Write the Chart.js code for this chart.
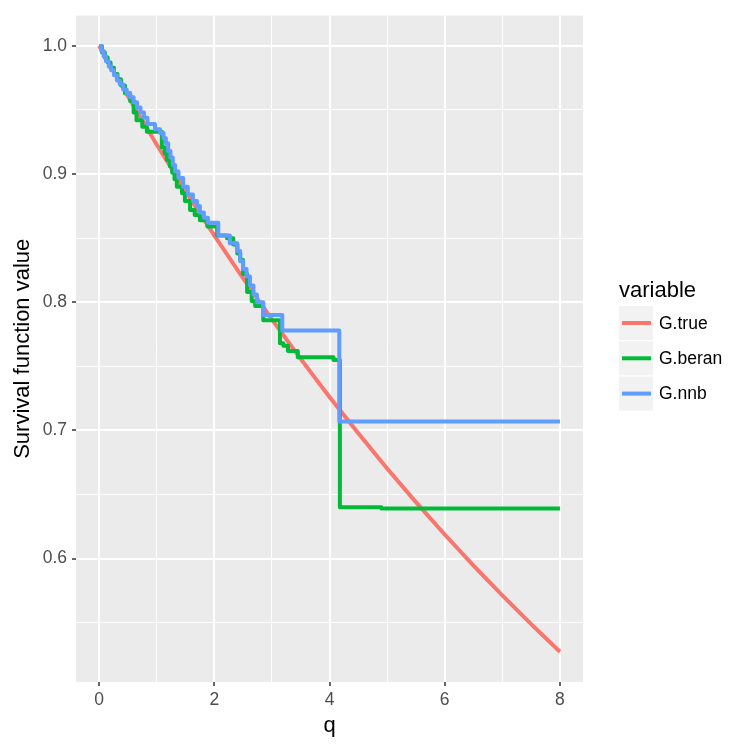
<!DOCTYPE html>
<html>
  <head>
    <meta charset="UTF-8" />
    <script src="https://cdn.jsdelivr.net/npm/chart.js"></script>
    <style>
      body {
        margin: 0;
        background: #ffffff;
      }
      #wrap {
        width: 750px;
        height: 750px;
      }
    </style>
  </head>
  <body>
    <div id="wrap">
      <canvas id="survChart" width="750" height="750"></canvas>
    </div>
    <script>
      // series names / colours (legend order)
      const seriesNames = ["G.true", "G.beran", "G.nnb"];
      const seriesColors = ["#F8766D", "#00BA38", "#619CFF"];

      // G.true
      const qTrue = [0, 0.5, 1, 1.5, 2, 2.5, 3, 3.5, 4, 4.5, 5, 5.5, 6, 6.5, 7, 7.5, 8];
      const gTrue = [1.0, 0.9608, 0.9231, 0.8869, 0.8521, 0.8187, 0.7866, 0.7558,
        0.7261, 0.6977, 0.6703, 0.6440, 0.6188, 0.5945, 0.5712, 0.5488, 0.5273];

      // G.beran step function: value after each jump
      const qBeran = [0, 0.05, 0.1, 0.15, 0.2, 0.26, 0.32, 0.38, 0.45, 0.54, 0.6, 0.65,
        0.75, 0.83, 1.09, 1.14, 1.18, 1.23, 1.27, 1.31, 1.35, 1.44, 1.49, 1.58, 1.66,
        1.75, 1.88, 2.05, 2.22, 2.33, 2.4, 2.45, 2.5, 2.57, 2.65, 2.71, 2.85, 3.14,
        3.2, 3.28, 3.45, 4.07, 4.18, 4.9, 8];
      const gBeran = [1.0, 0.995, 0.991, 0.987, 0.983, 0.978, 0.974, 0.969, 0.963,
        0.957, 0.948, 0.942, 0.937, 0.933, 0.921, 0.916, 0.911, 0.906, 0.901, 0.896,
        0.890, 0.885, 0.879, 0.872, 0.868, 0.864, 0.859, 0.852, 0.850, 0.845, 0.838,
        0.833, 0.822, 0.808, 0.801, 0.797, 0.786, 0.768, 0.766, 0.762, 0.757, 0.755,
        0.640, 0.639, 0.639];

      // G.nnb step function
      const qNnb = [0, 0.04, 0.08, 0.12, 0.17, 0.21, 0.26, 0.31, 0.36, 0.42, 0.48,
        0.54, 0.6, 0.66, 0.72, 0.78, 0.84, 0.97, 1.06, 1.12, 1.16, 1.2, 1.24, 1.28,
        1.32, 1.38, 1.46, 1.54, 1.63, 1.7, 1.75, 1.82, 1.89, 2.07, 2.27, 2.4, 2.45,
        2.5, 2.56, 2.62, 2.68, 2.74, 2.85, 3.18, 4.17, 8];
      const gNnb = [1.0, 0.996, 0.992, 0.988, 0.984, 0.981, 0.977, 0.973, 0.970,
        0.966, 0.963, 0.960, 0.956, 0.952, 0.948, 0.944, 0.939, 0.935, 0.932, 0.928,
        0.924, 0.918, 0.913, 0.907, 0.902, 0.897, 0.890, 0.884, 0.879, 0.875, 0.870,
        0.866, 0.862, 0.852, 0.846, 0.840, 0.832, 0.826, 0.820, 0.813, 0.806, 0.800,
        0.790, 0.778, 0.707, 0.707];

      // axis breaks (major + minor)
      const xTicks = [0, 1, 2, 3, 4, 5, 6, 7, 8];
      const yTicks = [0.55, 0.6, 0.65, 0.7, 0.75, 0.8, 0.85, 0.9, 0.95, 1.0];

      const isMajorX = (v) => Math.round(v) % 2 === 0;
      const isMajorY = (v) => Math.abs(v * 10 - Math.round(v * 10)) < 1e-6;

      const toPts = (xs, ys) => xs.map((x, i) => ({ x: x, y: ys[i] }));

      // grey panel like ggplot
      const panelBg = {
        id: "panelBg",
        beforeDraw(chart) {
          const { ctx, chartArea } = chart;
          ctx.save();
          ctx.fillStyle = "#ffffff";
          ctx.fillRect(0, 0, chart.width, chart.height);
          ctx.fillStyle = "#EBEBEB";
          ctx.fillRect(chartArea.left, chartArea.top,
            chartArea.right - chartArea.left, chartArea.bottom - chartArea.top);
          ctx.restore();
        },
      };

      // legend drawn on the right, ggplot style
      const ggLegend = {
        id: "ggLegend",
        afterDraw(chart) {
          const ctx = chart.ctx;
          ctx.save();
          ctx.fillStyle = "#000000";
          ctx.font = "22px 'Liberation Sans', Arial, sans-serif";
          ctx.textBaseline = "alphabetic";
          ctx.fillText("variable", 619, 297);
          ctx.font = "17.5px 'Liberation Sans', Arial, sans-serif";
          ctx.textBaseline = "middle";
          for (let i = 0; i < seriesNames.length; i++) {
            const top = 306 + i * 35.3;
            ctx.fillStyle = "#F2F2F2";
            ctx.fillRect(619, top, 34, 34);
            ctx.strokeStyle = seriesColors[i];
            ctx.lineWidth = 4;
            ctx.beginPath();
            ctx.moveTo(622, top + 17);
            ctx.lineTo(651, top + 17);
            ctx.stroke();
            ctx.fillStyle = "#000000";
            ctx.fillText(seriesNames[i], 659, top + 18);
          }
          ctx.restore();
        },
      };

      const lineDs = (i, data, stepped, order) => ({
        label: seriesNames[i],
        data: data,
        borderColor: seriesColors[i],
        backgroundColor: seriesColors[i],
        borderWidth: 4,
        borderJoinStyle: "round",
        pointRadius: 0,
        tension: 0,
        stepped: stepped,
        fill: false,
        order: order,
      });

      const ctx = document.getElementById("survChart").getContext("2d");
      new Chart(ctx, {
        type: "line",
        data: {
          datasets: [
            lineDs(0, toPts(qTrue, gTrue), false, 2),
            lineDs(1, toPts(qBeran, gBeran), "before", 1),
            lineDs(2, toPts(qNnb, gNnb), "before", 0),
          ],
        },
        options: {
          responsive: false,
          animation: false,
          layout: { padding: { top: 12, right: 167, left: 0, bottom: 0 } },
          plugins: { legend: { display: false }, tooltip: { enabled: false } },
          scales: {
            x: {
              type: "linear",
              min: -0.4,
              max: 8.4,
              afterBuildTicks: (s) => { s.ticks = xTicks.map((v) => ({ value: v })); },
              afterFit: (s) => { s.height = 68; },
              border: { display: false },
              grid: {
                color: "#ffffff",
                lineWidth: (c) => (isMajorX(c.tick.value) ? 2 : 1),
                tickColor: (c) => (isMajorX(c.tick.value) ? "#333333" : "rgba(0,0,0,0)"),
                tickLength: 4,
                tickWidth: 1.5,
              },
              ticks: {
                autoSkip: false,
                maxRotation: 0,
                padding: 4,
                color: "#4D4D4D",
                font: { family: "'Liberation Sans', Arial, sans-serif", size: 17.5 },
                callback: (v) => (isMajorX(v) ? String(v) : ""),
              },
              title: {
                display: true,
                text: "q",
                color: "#000000",
                font: { family: "'Liberation Sans', Arial, sans-serif", size: 22 },
                padding: { top: 0, bottom: 11 },
              },
            },
            y: {
              type: "linear",
              min: 0.5037,
              max: 1.0237,
              afterBuildTicks: (s) => { s.ticks = yTicks.map((v) => ({ value: v })); },
              afterFit: (s) => { s.width = 76; },
              border: { display: false },
              grid: {
                color: "#ffffff",
                lineWidth: (c) => (isMajorY(c.tick.value) ? 2 : 1),
                tickColor: (c) => (isMajorY(c.tick.value) ? "#333333" : "rgba(0,0,0,0)"),
                tickLength: 4,
                tickWidth: 1.5,
              },
              ticks: {
                autoSkip: false,
                padding: 5,
                color: "#4D4D4D",
                font: { family: "'Liberation Sans', Arial, sans-serif", size: 17.5 },
                callback: (v) => (isMajorY(v) ? v.toFixed(1) : ""),
              },
              title: {
                display: true,
                text: "Survival function value",
                color: "#000000",
                font: { family: "'Liberation Sans', Arial, sans-serif", size: 22 },
                padding: { top: 10, bottom: 0 },
              },
            },
          },
        },
        plugins: [panelBg, ggLegend],
      });
    </script>
  </body>
</html>
